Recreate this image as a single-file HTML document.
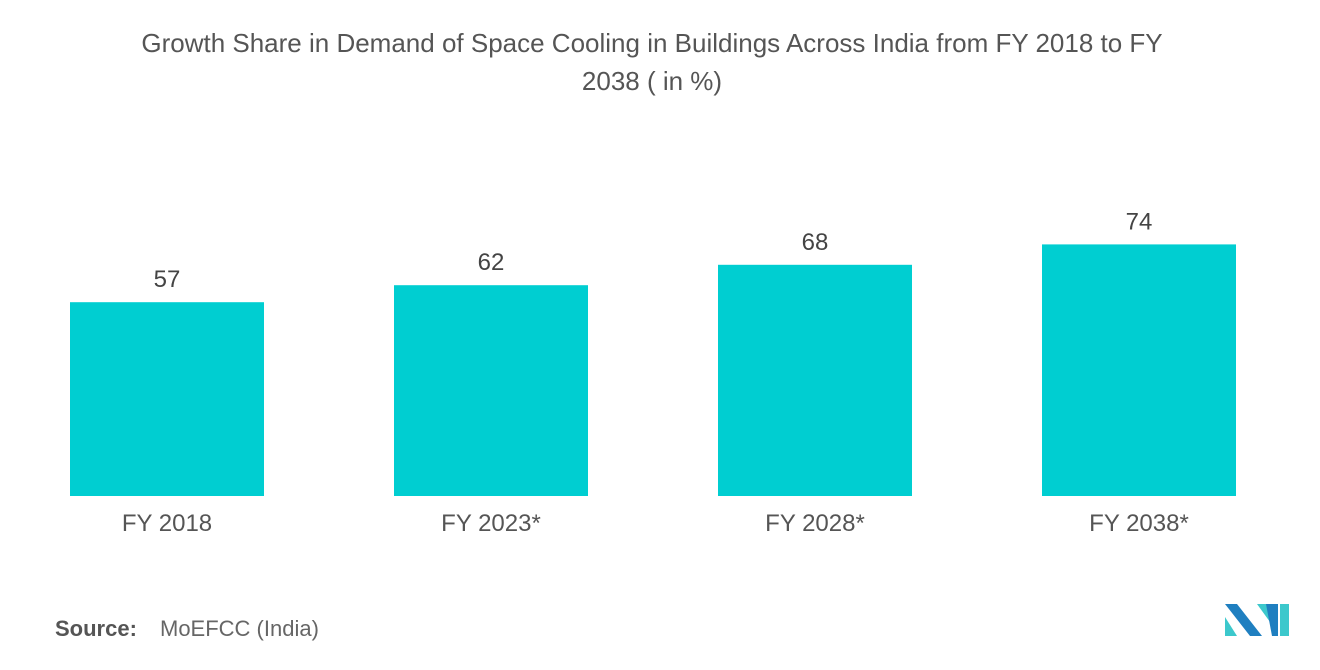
<!DOCTYPE html>
<html><head><meta charset="utf-8"><style>
body{margin:0;width:1320px;height:665px;background:#fff;font-family:"Liberation Sans",sans-serif;overflow:hidden}
</style></head><body>
<svg width="1320" height="665" xmlns="http://www.w3.org/2000/svg">
<text x="652" y="52" text-anchor="middle" font-size="26" fill="#555">Growth Share in Demand of Space Cooling in Buildings Across India from FY 2018 to FY</text>
<text x="652" y="90" text-anchor="middle" font-size="26" fill="#555">2038 ( in %)</text>
<g id="bars"></g>
<text x="55" y="636" font-size="22" fill="#555" font-weight="bold">Source:</text>
<text x="160" y="636" font-size="22" fill="#666">MoEFCC (India)</text>
<g>
<polygon points="1225,604 1237,604 1262,636 1250,636" fill="#1f7fc0"/>
<polygon points="1225,617 1237,636 1225,636" fill="#3cc8cc"/>
<polygon points="1257,604 1270,604 1270,622" fill="#3cc8cc"/>
<polygon points="1266,604 1278,604 1278,636 1272,636" fill="#1f7fc0"/>
<polygon points="1280,604 1289,604 1289,636 1280,636" fill="#3cc8cc"/>
</g>
</svg>
<script>
const categories=["FY 2018","FY 2023*","FY 2028*","FY 2038*"];
const values=[57,62,68,74];
const baseY=496, pxPerUnit=3.4, x0=70, step=324, bw=194;
function yScale(v){return baseY-v*pxPerUnit;}
function xScale(i){return x0+i*step;}
const g=document.getElementById('bars');
const ns="http://www.w3.org/2000/svg";
values.forEach((v,i)=>{
 const r=document.createElementNS(ns,'rect');
 
 
 r.setAttribute('x',xScale(i));r.setAttribute('y',yScale(v));
 r.setAttribute('width',bw);r.setAttribute('height',baseY-yScale(v));
 r.setAttribute('fill','#00ced1');g.appendChild(r);
 const t=document.createElementNS(ns,'text');
 
 
 t.setAttribute('x',xScale(i)+bw/2);t.setAttribute('y',yScale(v)-15);
 t.setAttribute('text-anchor','middle');t.setAttribute('font-size','24');t.setAttribute('fill','#444');
 t.textContent=v;g.appendChild(t);
 const c=document.createElementNS(ns,'text');
 
 
 c.setAttribute('x',xScale(i)+bw/2);c.setAttribute('y',531);
 c.setAttribute('text-anchor','middle');c.setAttribute('font-size','24');c.setAttribute('fill','#555');
 c.textContent=categories[i];g.appendChild(c);
});
</script>
</body></html>
